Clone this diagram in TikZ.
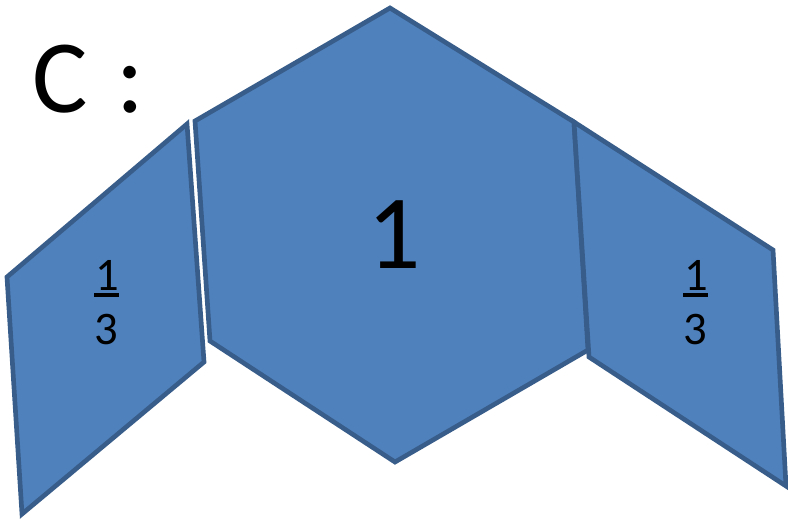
\documentclass[tikz,border=0pt]{standalone}
\usepackage{fontspec}
\setmainfont{Carlito}
\definecolor{shapefill}{HTML}{4F81BD}
\definecolor{shapeline}{HTML}{385D8A}
\begin{document}
\begin{tikzpicture}[x=0.75pt,y=-0.75pt,
  tile/.style={fill=shapefill,draw=shapeline,line width=3.5pt,line join=miter},
  lbl/.style={inner sep=0pt,outer sep=0pt,anchor=base},
  fracbar/.style={line width=3pt,draw=black}]
\useasboundingbox (0,0) rectangle (788,519);
% left parallelogram
\draw[tile] (187,124) -- (7,277) -- (22,514) -- (204,362) -- cycle;
% hexagon
\draw[tile] (390,8) -- (195,121) -- (210,341) -- (395,462) -- (588,350) -- (574,122) -- cycle;
% right parallelogram
\draw[tile] (574,122) -- (773,250) -- (786,486) -- (589,357) -- cycle;
% labels
\node[lbl,anchor=base west,font=\fontsize{78}{84}\selectfont] (title) at (32,112) {C\hspace{0.05em} :};
\node[lbl,font=\fontsize{79}{86}\selectfont] (one) at (394,268) {1};
\node[lbl,font=\fontsize{35}{40}\selectfont] (lnum) at (107,290) {1};
\node[lbl,font=\fontsize{35}{40}\selectfont] (lden) at (106,344) {3};
\draw[fracbar] (94,295) -- (119,295);
\node[lbl,font=\fontsize{35}{40}\selectfont] (rnum) at (696,290) {1};
\node[lbl,font=\fontsize{35}{40}\selectfont] (rden) at (695,344) {3};
\draw[fracbar] (683,295) -- (708,295);
\end{tikzpicture}
\end{document}
